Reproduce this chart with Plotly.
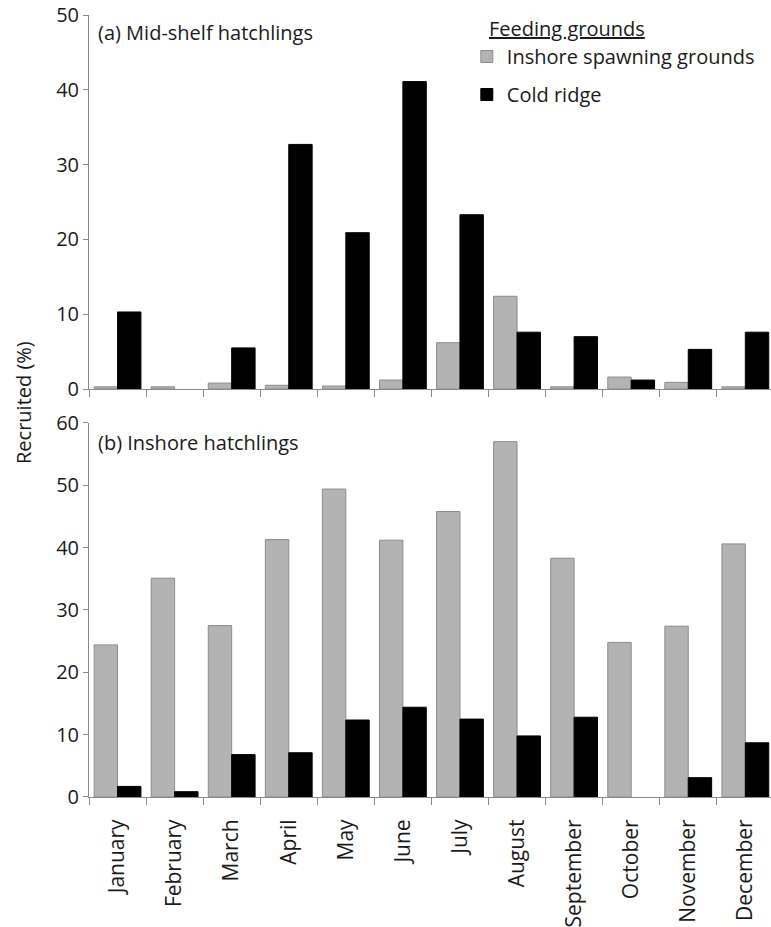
import plotly.graph_objects as go

months = ["January", "February", "March", "April", "May", "June", "July",
          "August", "September", "October", "November", "December"]

# (a) Mid-shelf hatchlings  (None = no bar drawn)
mid_inshore = [0.3, 0.3, 0.8, 0.5, 0.4, 1.2, 6.2, 12.4, 0.3, 1.6, 0.9, 0.3]
mid_cold = [10.3, None, 5.5, 32.7, 20.9, 41.1, 23.3, 7.6, 7.0, 1.2, 5.3, 7.6]

# (b) Inshore hatchlings
ins_inshore = [24.4, 35.1, 27.5, 41.3, 49.4, 41.2, 45.8, 57.0, 38.3, 24.8, 27.4, 40.6]
ins_cold = [1.7, 0.85, 6.8, 7.1, 12.35, 14.4, 12.5, 9.8, 12.8, None, 3.1, 8.7]

series_names = ["Inshore spawning grounds", "Cold ridge"]
y_ticks_a = [0, 10, 20, 30, 40, 50]
y_ticks_b = [0, 10, 20, 30, 40, 50, 60]

FONT = "Open Sans"
TXT = "#1a1a1a"
AX = "#8a8a8a"
GRAY_FILL = "#b3b3b3"
GRAY_LINE = "#8c8c8c"

fig = go.Figure()

def add_pair(inshore, cold, xa, ya, show):
    fig.add_trace(go.Bar(x=months, y=inshore, name=series_names[0], xaxis=xa, yaxis=ya,
                         marker=dict(color=GRAY_FILL, line=dict(color=GRAY_LINE, width=1)),
                         showlegend=show, legendgroup="g1"))
    fig.add_trace(go.Bar(x=months, y=cold, name=series_names[1], xaxis=xa, yaxis=ya,
                         marker=dict(color="#000000", line=dict(color="#000000", width=1)),
                         showlegend=show, legendgroup="g2"))

add_pair(mid_inshore, mid_cold, "x", "y", True)
add_pair(ins_inshore, ins_cold, "x2", "y2", False)

xcommon = dict(type="category", categoryorder="array", categoryarray=months,
               range=[-0.5, 11.45], showline=True, linecolor=AX, linewidth=1,
               ticks="outside", tickson="boundaries", ticklen=7, tickcolor=AX,
               showgrid=False, zeroline=False, fixedrange=True, automargin=False)
ycommon = dict(showline=True, linecolor=AX, linewidth=1, ticks="outside", ticklen=5,
               tickcolor=AX, showgrid=False, zeroline=False, dtick=10, automargin=False,
               tickfont=dict(family=FONT, size=20, color=TXT))

def py(pixel):
    # pixel row -> paper y (plot area spans rows 15..797)
    return (797 - pixel) / 782

fig.update_layout(
    width=771, height=927,
    margin=dict(l=89, r=0, t=15, b=130),
    paper_bgcolor="white", plot_bgcolor="white",
    barmode="group", bargap=0.18, bargroupgap=0.0,
    font=dict(family=FONT, color=TXT),
    xaxis=dict(**xcommon, domain=[0, 1], anchor="y", showticklabels=False),
    yaxis=dict(**ycommon, domain=[0.5217, 1], range=[0, 50], tickvals=y_ticks_a, anchor="x"),
    xaxis2=dict(**xcommon, domain=[0, 1], anchor="y2", showticklabels=True, tickangle=-90,
                ticklabelstandoff=13,
                tickfont=dict(family=FONT, size=21, color=TXT)),
    yaxis2=dict(**ycommon, domain=[0, 0.4783], range=[0, 60], tickvals=y_ticks_b, anchor="x2"),
    legend=dict(x=0.554, y=py(37), xref="paper", yref="paper", xanchor="left", yanchor="top",
                bgcolor="rgba(0,0,0,0)", font=dict(family=FONT, size=20, color=TXT),
                tracegroupgap=9, itemwidth=30, traceorder="grouped"),
    showlegend=True,
    annotations=[
        dict(text="<u>Feeding grounds</u>", xref="paper", yref="paper",
             x=(487 - 89) / 682, y=py(28), xanchor="left", yanchor="middle", showarrow=False,
             font=dict(family=FONT, size=20, color=TXT)),
        dict(text="(a) Mid-shelf hatchlings", xref="paper", yref="paper", x=0.01, y=py(33),
             xanchor="left", yanchor="middle", showarrow=False,
             font=dict(family=FONT, size=20, color=TXT)),
        dict(text="(b) Inshore hatchlings", xref="paper", yref="paper", x=0.01, y=py(442),
             xanchor="left", yanchor="middle", showarrow=False,
             font=dict(family=FONT, size=20, color=TXT)),
        dict(text="Recruited (%)", xref="paper", yref="paper", x=(23 - 89) / 682, y=py(403),
             xanchor="center", yanchor="middle", textangle=-90, showarrow=False,
             font=dict(family=FONT, size=20, color=TXT)),
    ],
)

fig.write_html("out.html")
